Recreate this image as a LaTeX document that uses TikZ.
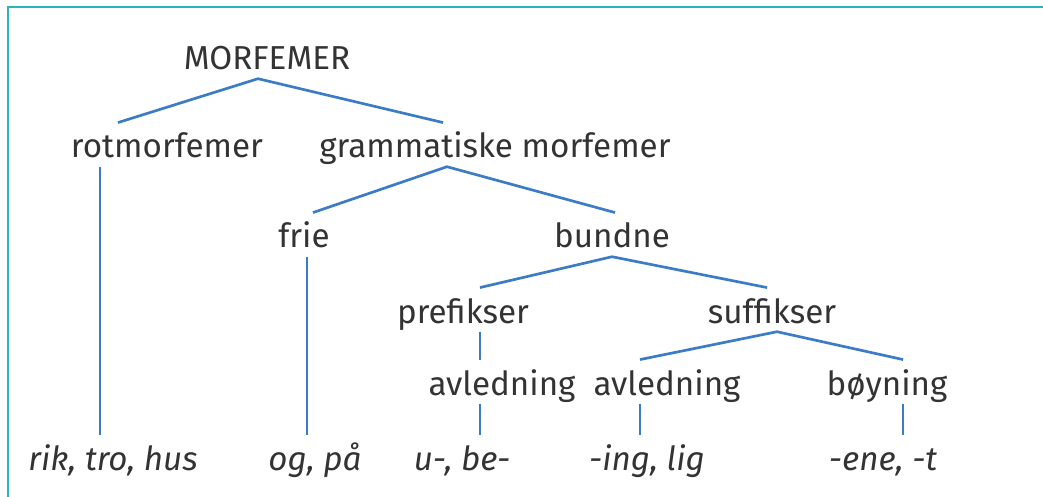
\documentclass[tikz,border=0pt]{standalone}
\usepackage{fontspec}
\setmainfont{Fira Sans}
\definecolor{branchblue}{HTML}{3C7CC6}
\definecolor{frameteal}{HTML}{2BB3C0}
\definecolor{textgray}{HTML}{333333}

\begin{document}
\begin{tikzpicture}[x=0.025cm, y=-0.025cm,
	every node/.style={font=\fontsize{23.6}{28}\selectfont, text=textgray, anchor=base,
		inner sep=0pt, text height=25pt, text depth=6pt},
	leaf/.style={font=\fontsize{23.6}{28}\selectfont\itshape},
	branch/.style={draw=branchblue, line width=1.9pt}]
	\useasboundingbox (0,0) rectangle (1043,497);
	\draw[frameteal, line width=2pt] (8,497) -- (8,7) -- (1043,7);
	% levels
	\node (morf) at (267,70) {MORFEMER};
	\node (rot) at (167,158) {rotmorfemer};
	\node (gram) at (495,158) {grammatiske morfemer};
	\node (frie) at (304,248) {frie};
	\node (bundne) at (612,248) {bundne};
	\node (pref) at (463,323) {prefikser};
	\node (suff) at (772,323) {suffikser};
	\node (avlA) at (502,395) {avledning};
	\node (avlB) at (667,395) {avledning};
	\node (boy) at (887,395) {bøyning};
	% examples
	\node[leaf] (rik) at (113,470) {rik, tro, hus};
	\node[leaf] (ogpa) at (315,470) {og, på};
	\node[leaf] (ube) at (462,470) {u-, be-};
	\node[leaf] (ing) at (647,470) {-ing, lig};
	\node[leaf] (ene) at (883,470) {-ene, -t};
	% branches
	\draw[branch] (118,0 |- rot.north) -- (258,0 |- morf.south) -- (443,0 |- gram.north);
	\draw[branch] (313,0 |- frie.north) -- (447,0 |- gram.south) -- (615,0 |- bundne.north);
	\draw[branch] (480,0 |- pref.north) -- (612,0 |- bundne.south) -- (767,0 |- suff.north);
	\draw[branch] (640,0 |- avlB.north) -- (777,0 |- suff.south) -- (903,0 |- boy.north);
	\draw[branch] (100,0 |- rot.south) -- (100,0 |- rik.north);
	\draw[branch] (307,0 |- frie.south) -- (307,0 |- ogpa.north);
	\draw[branch] (480,0 |- pref.south) -- (480,0 |- avlA.north);
	\draw[branch] (480,0 |- avlA.south) -- (480,0 |- ube.north);
	\draw[branch] (640,0 |- avlB.south) -- (640,0 |- ing.north);
	\draw[branch] (903,0 |- boy.south) -- (903,0 |- ene.north);
\end{tikzpicture}
\end{document}
